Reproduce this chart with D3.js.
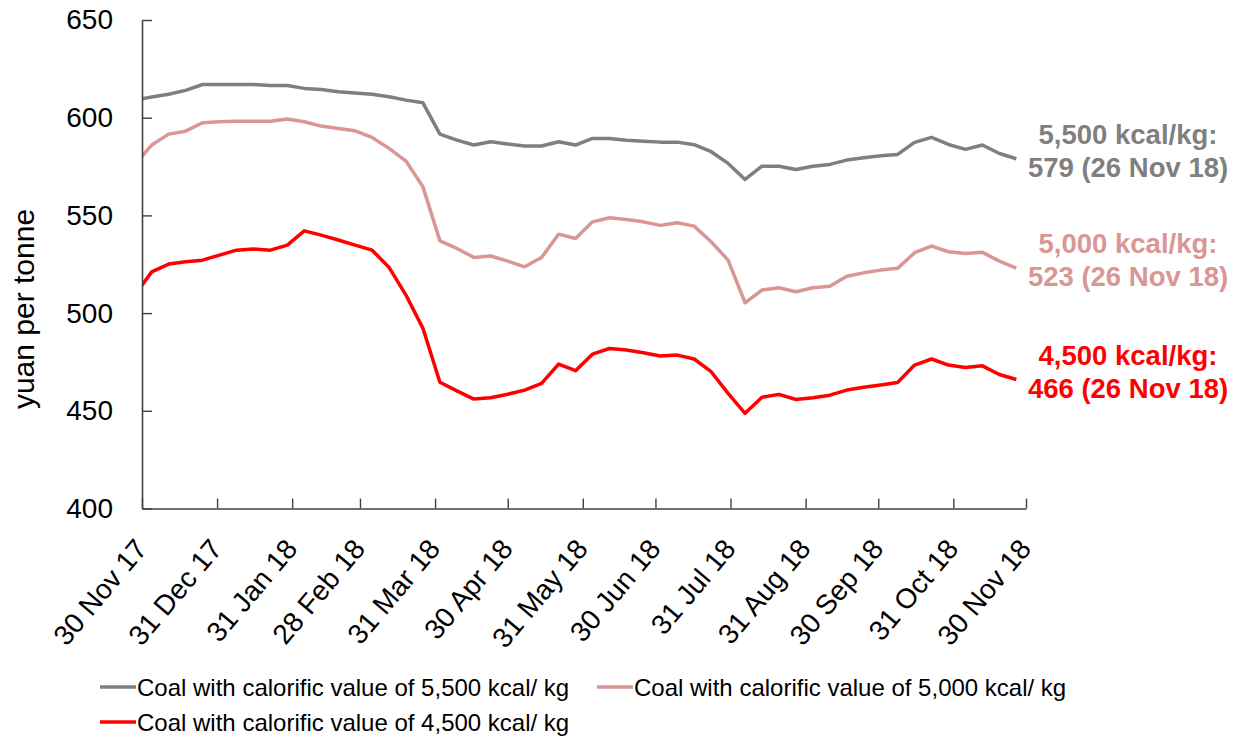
<!DOCTYPE html>
<html>
<head>
<meta charset="utf-8">
<script src="https://cdn.jsdelivr.net/npm/d3@7"></script>
<style>
  body { margin: 0; background: #fff; }
  text { font-family: "Liberation Sans", Arial, sans-serif; }
</style>
</head>
<body>
<svg id="chart" width="1243" height="740"></svg>
<script>
// Weekly price observations (Mondays)
const weeks = [
  "2017-11-27","2017-12-04","2017-12-11","2017-12-18","2017-12-25",
  "2018-01-01","2018-01-08","2018-01-15","2018-01-22","2018-01-29",
  "2018-02-05","2018-02-12","2018-02-19","2018-02-26",
  "2018-03-05","2018-03-12","2018-03-19","2018-03-26",
  "2018-04-02","2018-04-09","2018-04-16","2018-04-23","2018-04-30",
  "2018-05-07","2018-05-14","2018-05-21","2018-05-28",
  "2018-06-04","2018-06-11","2018-06-18","2018-06-25",
  "2018-07-02","2018-07-09","2018-07-16","2018-07-23","2018-07-30",
  "2018-08-06","2018-08-13","2018-08-20","2018-08-27",
  "2018-09-03","2018-09-10","2018-09-17","2018-09-24",
  "2018-10-01","2018-10-08","2018-10-15","2018-10-22","2018-10-29",
  "2018-11-05","2018-11-12","2018-11-19","2018-11-26"
];

// yuan per tonne
const coal5500 = [
  609, 610.6, 612, 614, 617,
  617, 617, 617, 616.5, 616.5,
  615, 614.4, 613.3, 612.6,
  612, 610.7, 609, 607.6,
  591.6, 588.5, 586, 587.7, 586.5,
  585.5, 585.5, 587.7, 586,
  589.4, 589.4, 588.5, 588,
  587.5, 587.5, 586.2, 582.6, 576.6,
  568.4, 575.2, 575.2, 573.5,
  575.2, 576.1, 578.3, 579.5,
  580.5, 581.2, 587.4, 589.9, 586.3,
  583.8, 586, 581.7, 579
];
const coal5000 = [
  576, 586, 591.6, 593.1, 597.4,
  597.9, 598.2, 598.2, 598.2, 599.3,
  597.9, 595.7, 594.5, 593.3,
  589.9, 584.3, 577.8, 564.6,
  537, 533.1, 528.5, 529.2, 526.6,
  523.7, 528.5, 540.4, 538.2,
  546.7, 548.8, 547.9, 546.7,
  544.9, 546.2, 544.5, 536.5, 527.1,
  505.3, 511.8, 513, 510.9,
  513, 513.8, 518.9, 520.6,
  522, 522.9, 530.9, 534.3, 531.4,
  530.5, 531.1, 526.6, 523
];
const coal4500 = [
  509.2, 521.1, 525.1, 526.3, 527.1,
  529.7, 532.2, 532.8, 532.2, 534.8,
  542.1, 539.9, 537.4, 534.8,
  532.2, 523.4, 509.2, 492.2,
  464.6, 460.2, 456, 456.7, 458.5,
  460.6, 464, 473.9, 470.5,
  479, 481.9, 481.1, 479.7,
  478, 478.5, 476.5, 470, 458.9,
  448.7, 456.9, 458.4, 455.8,
  456.7, 458, 460.6, 462,
  463.2, 464.5, 473.4, 476.5, 473.4,
  472.2, 473, 468.6, 466
];

const tickDates = [
  "2017-11-30","2017-12-31","2018-01-31","2018-02-28","2018-03-31","2018-04-30",
  "2018-05-31","2018-06-30","2018-07-31","2018-08-31","2018-09-30","2018-10-31","2018-11-30"
];
const yTicks = [400, 450, 500, 550, 600, 650];

const seriesNames = [
  "Coal with calorific value of 5,500 kcal/ kg",
  "Coal with calorific value of 5,000 kcal/ kg",
  "Coal with calorific value of 4,500 kcal/ kg"
];
const endLabelHeads = ["5,500 kcal/kg:", "5,000 kcal/kg:", "4,500 kcal/kg:"];
const lastDateLabel = "26 Nov 18";
const colors = ["#7f7f7f", "#d99694", "#ff0000"];

const parse = d3.utcParse("%Y-%m-%d");
const dates = weeks.map(parse);
const series = [coal5500, coal5000, coal4500].map((vals, i) => ({
  name: seriesNames[i],
  head: endLabelHeads[i],
  color: colors[i],
  points: vals.map((v, j) => ({ date: dates[j], value: v }))
}));

const svg = d3.select("#chart");
const plot = { left: 142, right: 1026, top: 20, bottom: 508.5 };

const x = d3.scaleUtc()
  .domain([parse(tickDates[0]), parse(tickDates[tickDates.length - 1])])
  .range([plot.left, plot.right]);
const y = d3.scaleLinear().domain([400, 650]).range([plot.bottom, plot.top]);

svg.append("defs").append("clipPath").attr("id", "plotClip")
  .append("rect")
  .attr("x", plot.left).attr("y", 0)
  .attr("width", plot.right - plot.left + 10).attr("height", plot.bottom + 5);

// Lines
const line = d3.line().x(d => x(d.date)).y(d => y(d.value));
svg.append("g").attr("clip-path", "url(#plotClip)")
  .selectAll("path").data(series).join("path")
  .attr("d", d => line(d.points))
  .attr("fill", "none")
  .attr("stroke", d => d.color)
  .attr("stroke-width", 3.5)
  .attr("stroke-linejoin", "round");

// Y axis
const yAxis = svg.append("g")
  .attr("transform", `translate(${plot.left},0)`)
  .call(d3.axisLeft(y).tickValues(yTicks).tickSizeInner(-10).tickSizeOuter(0).tickPadding(29));
yAxis.select(".domain").attr("stroke", "#404040").attr("stroke-width", 1.6);
yAxis.selectAll(".tick line").attr("stroke", "#404040").attr("stroke-width", 1.4);
yAxis.selectAll(".tick text")
  .attr("font-size", 28).attr("fill", "#000")
  .attr("font-family", "'Liberation Sans', Arial, sans-serif");

// X axis
const fmt = d3.utcFormat("%d %b %y");
const xAxis = svg.append("g")
  .attr("transform", `translate(0,${plot.bottom})`)
  .call(d3.axisBottom(x).tickValues(tickDates.map(parse)).tickSizeInner(-10).tickSizeOuter(0).tickFormat(fmt));
xAxis.select(".domain").attr("stroke", "#404040").attr("stroke-width", 1.6);
xAxis.selectAll(".tick line").attr("stroke", "#404040").attr("stroke-width", 1.4);
xAxis.selectAll(".tick text")
  .attr("font-size", 28).attr("fill", "#000")
  .attr("font-family", "'Liberation Sans', Arial, sans-serif")
  .attr("text-anchor", "end")
  .attr("y", 0).attr("dy", 0)
  .attr("transform", "translate(6,41) rotate(-50)");

// Y axis title
svg.append("text")
  .attr("transform", "translate(34,309) rotate(-90)")
  .attr("text-anchor", "middle")
  .attr("font-size", 30)
  .attr("fill", "#000")
  .text("yuan per tonne");

// End-of-series value labels
const endG = svg.append("g");
series.forEach(s => {
  const last = s.points[s.points.length - 1];
  const yy = y(last.value);
  const t = endG.append("text")
    .attr("text-anchor", "middle")
    .attr("font-size", 27.5)
    .attr("font-weight", "bold")
    .attr("fill", s.color);
  t.append("tspan").attr("x", 1128).attr("y", yy - 15).text(s.head);
  t.append("tspan").attr("x", 1128).attr("y", yy + 18)
    .text(`${d3.format(",")(Math.round(last.value))} (${lastDateLabel})`);
});

// Legend
const legendItems = [
  { s: series[0], x: 100, y: 687 },
  { s: series[1], x: 597, y: 687 },
  { s: series[2], x: 100, y: 722 }
];
const lg = svg.append("g");
legendItems.forEach(it => {
  lg.append("line")
    .attr("x1", it.x).attr("x2", it.x + 36)
    .attr("y1", it.y).attr("y2", it.y)
    .attr("stroke", it.s.color).attr("stroke-width", 3.5);
  lg.append("text")
    .attr("x", it.x + 37).attr("y", it.y + 8.5)
    .attr("font-size", 24)
    .attr("fill", "#000")
    .text(it.s.name);
});
</script>
</body>
</html>
